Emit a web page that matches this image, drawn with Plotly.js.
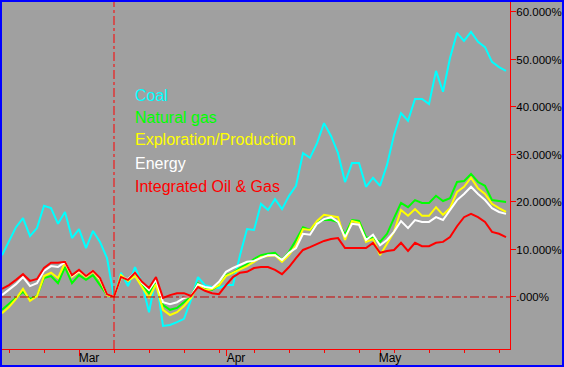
<!DOCTYPE html>
<html><head><meta charset="utf-8">
<script src="https://cdn.plot.ly/plotly-3.0.1.min.js"></script>
<style>
html,body{margin:0;padding:0;background:#a0a0a0;}
#wrap{width:564px;height:367px;box-sizing:border-box;border:2px solid #0000ff;background:#a0a0a0;overflow:hidden;}
#chart{width:560px;height:363px;}
</style></head><body><div id="wrap"><div id="chart"></div></div>
<script>
// Trading-day index 0..72 ; values in percent change
const coal=[8.8,11.6,14.7,16.6,12.8,14.5,19.2,18.7,15.4,17.9,12.4,14.3,10.3,13.9,11.6,8.2,0.0,5.1,2.3,6.3,2.9,-3.2,4.2,-6.1,-5.9,-5.3,-4.6,-0.6,4.2,2.5,2.1,1.9,2.5,2.5,8.8,14.3,14.1,19.6,18.3,20.6,18.5,21.3,23.4,30.3,29.3,32.4,36.6,33.9,30.3,24.2,28.2,28.2,23.2,25.1,23.4,27.8,34.1,38.7,37.1,41.7,41.7,40.6,47.6,43.2,50.3,55.6,53.9,55.8,53.7,52.6,49.5,48.4,47.6];
const naturalGas=[-2.7,-1.5,-0.2,1.1,-0.4,0.2,4.0,4.4,2.9,6.3,2.9,4.6,3.6,4.6,2.5,0.4,0.0,4.0,3.6,4.8,2.5,0.8,3.4,-1.7,-2.7,-2.3,-1.1,0.2,2.9,1.9,1.5,2.5,4.6,5.1,6.1,6.9,8.0,8.8,9.1,9.3,7.8,9.5,12.0,14.7,14.1,15.8,16.2,16.2,15.8,13.1,16.2,16.0,12.6,12.4,11.6,13.3,16.6,19.8,18.9,20.4,19.8,19.8,21.3,20.2,20.8,24.2,24.4,25.9,24.2,23.4,20.4,20.2,20.0];
const exploration=[-3.4,-2.1,-0.4,1.7,-0.8,0.2,4.4,5.1,4.0,7.2,4.2,5.3,4.2,5.3,3.6,0.4,0.0,4.6,3.4,4.4,2.1,-0.2,2.7,-2.7,-3.8,-3.2,-1.9,-0.2,2.5,1.5,1.7,2.5,4.4,5.1,5.7,6.5,7.4,8.4,8.6,8.8,7.4,8.8,10.9,14.3,14.1,16.0,17.3,17.1,16.8,12.0,16.0,15.6,11.6,12.2,8.8,11.2,13.7,18.3,17.1,18.5,17.1,17.1,18.9,17.3,18.7,22.1,23.2,25.1,22.9,21.7,19.6,18.7,17.9];
const energy=[0.4,1.5,2.7,4.2,2.3,2.9,5.5,6.5,6.3,7.4,4.4,5.5,4.4,5.5,3.8,0.6,0.0,4.0,3.8,5.1,2.9,1.5,3.6,-1.1,-1.5,-1.1,-0.2,0.2,2.7,2.1,1.9,3.2,5.3,6.1,6.7,7.4,7.6,8.2,8.8,8.8,7.8,9.3,10.3,13.3,13.1,15.4,16.4,16.8,15.8,12.6,15.4,15.2,12.0,13.1,10.9,12.0,13.7,16.0,14.5,16.2,15.8,15.8,16.8,16.2,18.3,20.4,21.7,23.2,21.7,20.4,18.7,17.9,17.5];
const integrated=[1.7,2.5,3.6,4.8,3.4,3.8,6.1,7.2,7.2,7.4,4.6,5.7,4.4,5.5,4.0,0.6,0.0,4.2,3.6,5.1,3.2,1.9,4.2,-0.2,0.4,0.8,0.8,0.2,2.1,1.3,0.8,0.6,2.5,4.2,5.1,5.3,6.1,6.3,6.3,5.7,4.8,6.3,8.2,9.9,10.5,11.2,11.8,12.2,12.4,10.3,10.3,10.3,10.3,11.4,9.3,9.7,9.9,11.4,9.7,11.4,10.7,10.7,11.4,11.6,12.6,14.9,16.8,17.5,16.8,15.8,13.7,13.3,12.6];

const seriesNames=["Coal","Natural gas","Exploration/Production","Energy","Integrated Oil & Gas"];
const seriesColors=["#00ffff","#00ff00","#ffff00","#ffffff","#ff0000"];
const monthLabels=["Mar","Apr","May"];
const monthPos=[11,32,54];
const weekPos=[1,6,11,16,21,26,31,36,41,46,51,56,61,66,71];
const yTickVals=[0,10,20,30,40,50,60];
const yTickText=[".000%","10.000%","20.000%","30.000%","40.000%","50.000%","60.000%"];
const baseDay=16;

const idx=coal.map((_,i)=>i);
const allSeries=[coal,naturalGas,exploration,energy,integrated];
const traces=allSeries.map((s,k)=>({
  x:idx,y:s,type:'scatter',mode:'lines',name:seriesNames[k],
  line:{color:seriesColors[k],width:2},hoverinfo:'skip'
}));

const legendY=[42.5,37.7,33.2,28.0,23.3];
const annotations=seriesNames.map((n,k)=>({
  text:n,x:18.7,y:legendY[k],xref:'x',yref:'y',xanchor:'left',yanchor:'middle',
  showarrow:false,font:{family:'Liberation Sans, Arial, sans-serif',size:16,color:seriesColors[k]}
}));

const layout={
  width:560,height:363,
  margin:{l:0,r:52,t:0,b:16,pad:0},
  paper_bgcolor:'#a0a0a0',plot_bgcolor:'#a0a0a0',
  showlegend:false,
  font:{family:'Liberation Sans, Arial, sans-serif',size:12,color:'#000000'},
  xaxis:{range:[0,72.57],showgrid:false,zeroline:false,showline:true,linecolor:'#ff0000',linewidth:1,
    tickmode:'array',tickvals:monthPos,ticktext:monthLabels,ticks:'outside',ticklen:6,tickwidth:1,tickcolor:'#ff0000',
    ticklabelshift:10,ticklabelstandoff:-8,
    tickfont:{family:'Liberation Sans, Arial, sans-serif',size:12,color:'#000000'},
    minor:{tickmode:'array',tickvals:weekPos,ticks:'outside',ticklen:3,tickwidth:1,tickcolor:'#ff0000',showgrid:false},
    fixedrange:true},
  yaxis:{side:'right',range:[-10.95,62.1],showgrid:false,zeroline:false,showline:true,linecolor:'#ff0000',linewidth:1,
    tickmode:'array',tickvals:yTickVals,ticktext:yTickText,ticks:'outside',ticklen:5,tickwidth:1,tickcolor:'#ff0000',
    ticklabelstandoff:-2,
    tickfont:{family:'Liberation Sans, Arial, sans-serif',size:11.5,color:'#000000'},fixedrange:true},
  shapes:[
    {type:'line',xref:'x',yref:'paper',x0:baseDay,x1:baseDay,y0:0,y1:1,line:{color:'#ff0000',width:1,dash:'dashdot'}},
    {type:'line',xref:'paper',yref:'y',x0:0,x1:1,y0:0,y1:0,line:{color:'#cc0000',width:1,dash:'dashdot'}}
  ],
  annotations:annotations
};
Plotly.newPlot('chart',traces,layout,{staticPlot:true,displayModeBar:false});
</script></body></html>
